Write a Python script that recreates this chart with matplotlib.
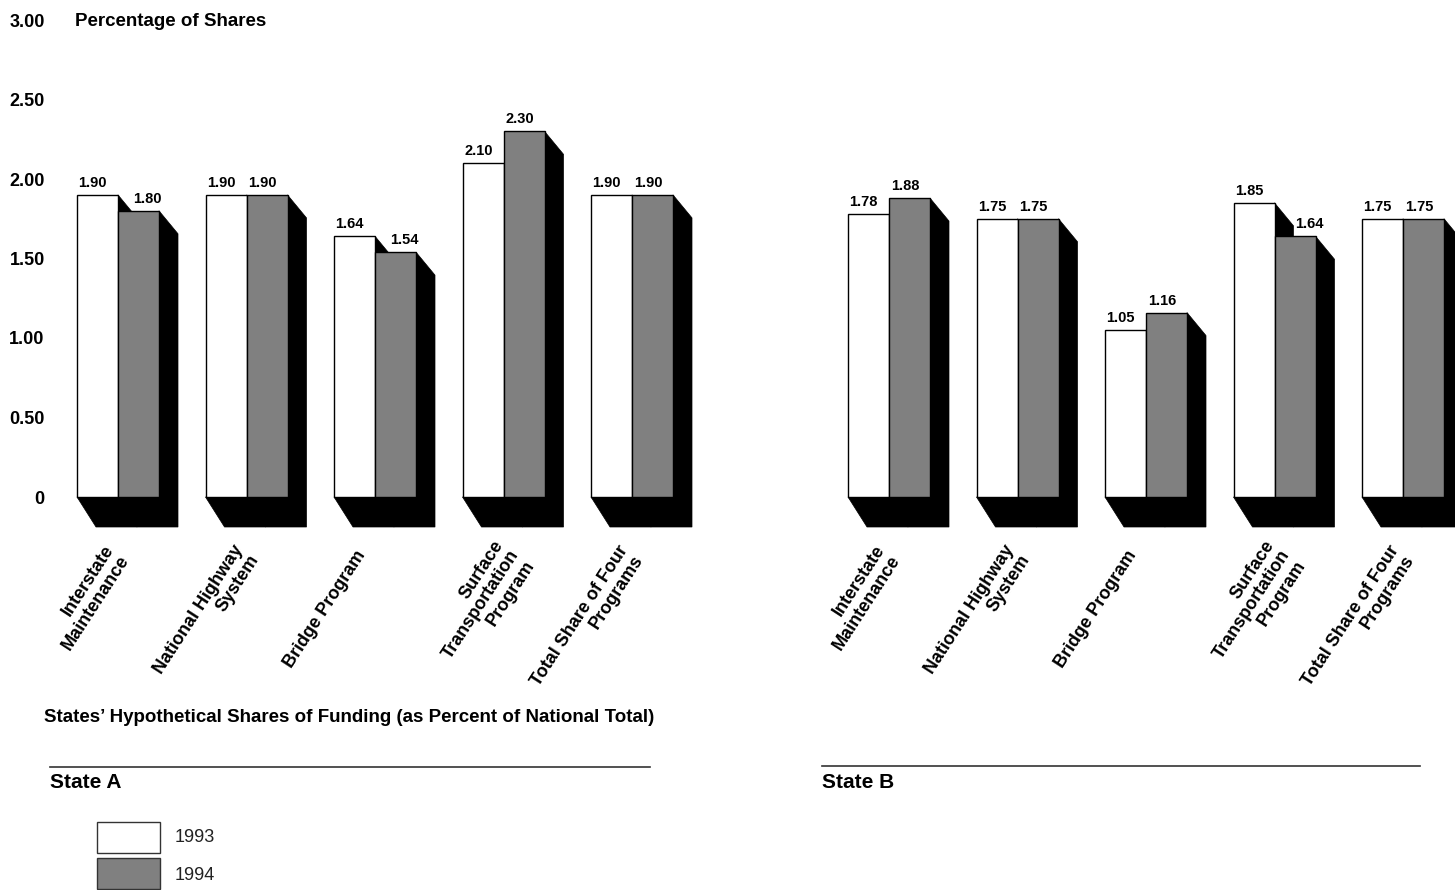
import numpy as np
import matplotlib.pyplot as plt
from matplotlib.patches import Polygon, Rectangle

plt.rcParams['font.family'] = ['Liberation Sans', 'DejaVu Sans']

# Datos
programas = ['Interstate\nMaintenance', 'National Highway\nSystem', 'Bridge Program',
             'Surface\nTransportation\nProgram', 'Total Share of Four\nPrograms']
estado_a_1993 = [1.90, 1.90, 1.64, 2.10, 1.90]
estado_a_1994 = [1.80, 1.90, 1.54, 2.30, 1.90]
estado_b_1993 = [1.78, 1.75, 1.05, 1.85, 1.75]
estado_b_1994 = [1.88, 1.75, 1.16, 1.64, 1.75]
yticks = [0, 0.5, 1.0, 1.5, 2.0, 2.5, 3.0]
ytick_labels = ['0', '0.50', '1.00', '1.50', '2.00', '2.50', '3.00']

W, H = 1455, 890
PX_X = 128.5      # pixeles por unidad en x
PX_Y = 159.0      # pixeles por unidad en y
ancho = 41 / PX_X
sx = 19 / PX_X            # desplazamiento de la sombra
sy_top = 23 / PX_Y
sy_bot = 30 / PX_Y
gris = '#808080'

# ajuste horizontal (px) de cada etiqueta rotada
ajuste_etiq = [0, 1, -13, 12, 0]

fig = plt.figure(figsize=(W / 100, H / 100), dpi=100)

ylo, yhi = -0.25, 3.05
bottom = 1 - (497 + 0.25 * PX_Y) / H
height = (yhi - ylo) * PX_Y / H


def sombra(ax, x0, x1, h):
    pts = [(x0, 0), (x0 + sx, -sy_bot), (x1 + sx, -sy_bot),
           (x1 + sx, h - sy_top), (x1, h), (x1, 0)]
    ax.add_patch(Polygon(pts, closed=True, facecolor='black', edgecolor='black',
                         lw=0.5, zorder=1))


def panel(left_px, right_px, centro0_px, v93, v94, etiquetas_y):
    ax = fig.add_axes([left_px / W, bottom, (right_px - left_px) / W, height])
    ax.set_xlim((left_px - centro0_px) / PX_X, (right_px - centro0_px) / PX_X)
    ax.set_ylim(ylo, yhi)
    for s in ax.spines.values():
        s.set_visible(False)
    ax.set_xticks([])
    ax.set_yticks(yticks)
    if etiquetas_y:
        ax.set_yticklabels(ytick_labels, fontsize=13, fontweight='bold')
    else:
        ax.set_yticklabels([])
    ax.tick_params(axis='y', length=0, pad=11)

    x = np.arange(len(v93))
    for i in x:
        sombra(ax, i, i + ancho, v94[i])
        sombra(ax, i - ancho, i, v93[i])
    ax.bar(x - ancho / 2, v93, ancho, color='white', edgecolor='black', lw=1, zorder=2)
    ax.bar(x + ancho / 2, v94, ancho, color=gris, edgecolor='black', lw=1, zorder=2)

    for i in x:
        ax.text(i - ancho + 1.5 / PX_X, v93[i] + 8 / PX_Y, f'{v93[i]:.2f}',
                ha='left', va='baseline', fontsize=10.5, fontweight='bold')
        dif = (v93[i] - v94[i]) * PX_Y
        corr = 2 + (min(19, 19 * dif / 23) if dif > 0 else 0)
        ax.text(i + corr / PX_X, v94[i] + 8 / PX_Y, f'{v94[i]:.2f}',
                ha='left', va='baseline', fontsize=10.5, fontweight='bold')
        ax.text(i + ajuste_etiq[i] / PX_X, -(552 - 497) / PX_Y, programas[i],
                rotation=57, rotation_mode='anchor', ha='right', va='center',
                multialignment='right', linespacing=1.1,
                fontsize=13, fontweight='bold', clip_on=False)
    return ax


panel(60, 710, 118, estado_a_1993, estado_a_1994, True)
panel(831, 1455, 889, estado_b_1993, estado_b_1994, False)

fig.text(75 / W, 1 - 21 / H, 'Percentage of Shares', fontsize=13.5,
         fontweight='bold', va='center', ha='left')
fig.text(349 / W, 1 - 718 / H,
         'States\u2019 Hypothetical Shares of Funding (as Percent of National Total)',
         fontsize=13.5, fontweight='bold', ha='center', va='center')

# Lineas y titulos de cada estado
fig.add_artist(plt.Line2D([50 / W, 650 / W], [1 - 767 / H, 1 - 767 / H],
                          color='#333333', lw=1.2))
fig.add_artist(plt.Line2D([822 / W, 1420 / W], [1 - 766 / H, 1 - 766 / H],
                          color='#333333', lw=1.2))
fig.text(50 / W, 1 - 783 / H, 'State A', fontsize=15,
         fontweight='bold', va='center')
fig.text(822 / W, 1 - 783 / H, 'State B', fontsize=15,
         fontweight='bold', va='center')

# Leyenda
fig.add_artist(Rectangle((97 / W, 1 - 853 / H), 63 / W, 31 / H,
                         transform=fig.transFigure, facecolor='white',
                         edgecolor='#333333', lw=1))
fig.add_artist(Rectangle((97 / W, 1 - 889 / H), 63 / W, 31 / H,
                         transform=fig.transFigure, facecolor=gris,
                         edgecolor='#333333', lw=1))
fig.text(175 / W, 1 - 838 / H, '1993', fontsize=13, color='#222222', va='center')
fig.text(175 / W, 1 - 875 / H, '1994', fontsize=13, color='#222222', va='center')

fig.savefig('out.png', dpi=100)
